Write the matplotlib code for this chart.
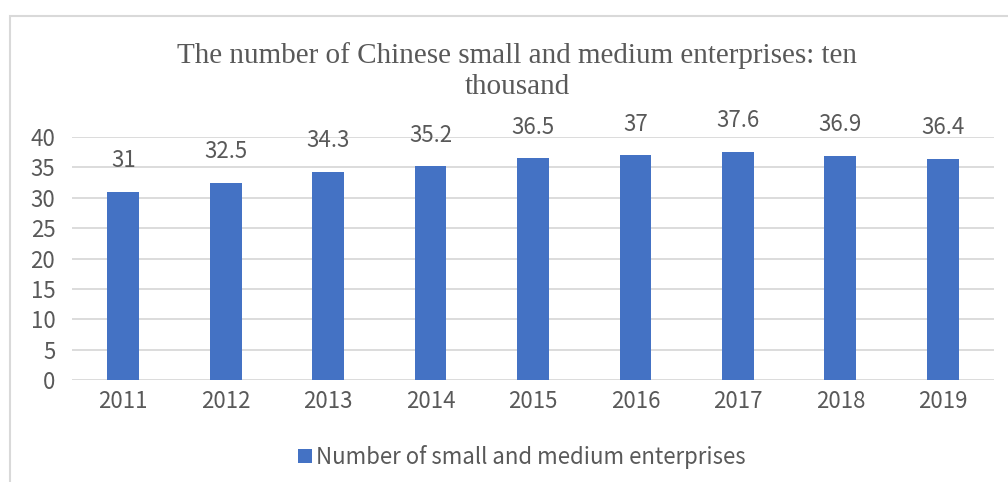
import matplotlib.pyplot as plt
from matplotlib.patches import Rectangle

years = ['2011', '2012', '2013', '2014', '2015', '2016', '2017', '2018', '2019']
enterprises = [31, 32.5, 34.3, 35.2, 36.5, 37, 37.6, 36.9, 36.4]
labels = ['31', '32.5', '34.3', '35.2', '36.5', '37', '37.6', '36.9', '36.4']

BAR_COLOR = '#4472C4'
TEXT_COLOR = '#595959'
GRID_COLOR = '#D9D9D9'
W, H = 1008, 482

plt.rcParams['font.family'] = ['Noto Sans CJK SC', 'DejaVu Sans']

fig = plt.figure(figsize=(W / 100, H / 100), dpi=100)
ax = fig.add_axes([72 / W, 1 - 380 / H, (994 - 72) / W, (380 - 137) / H])

x = list(range(len(years)))
bars = ax.bar(x, enterprises, width=0.31, color=BAR_COLOR, zorder=3,
              label='Number of small and medium enterprises')
for i in range(len(x)):
    ax.annotate(labels[i], (x[i], enterprises[i]), xytext=(0, 14),
                textcoords='offset points', ha='center', va='bottom',
                fontsize=16, color=TEXT_COLOR)

ax.set_xlim(-0.5, len(years) - 0.5)
ax.set_ylim(0, 40)
ax.set_yticks(range(0, 41, 5))
ax.set_xticks(x)
ax.set_xticklabels(years)
ax.tick_params(axis='both', length=0, labelsize=16, colors=TEXT_COLOR)
ax.tick_params(axis='y', pad=12)
ax.tick_params(axis='x', pad=7)
ax.grid(axis='y', color=GRID_COLOR, linewidth=1.3, zorder=0)
for s in ax.spines.values():
    s.set_visible(False)

fig.text(517 / W, 1 - 71 / H, 'The number of Chinese small and medium enterprises: ten\nthousand',
         ha='center', va='center', fontsize=21, color=TEXT_COLOR,
         fontname='Liberation Serif', linespacing=1.25)

fig.legend(loc='center', bbox_to_anchor=(522 / W, 1 - 457 / H), frameon=False,
           fontsize=16, labelcolor=TEXT_COLOR, handlelength=0.6, handleheight=0.6,
           handletextpad=0.2)

# outer chart frame (cut off on right and bottom)
fig.patches.append(Rectangle((10 / W, -0.1), 1.2, 1 - 16 / H + 0.1,
                             transform=fig.transFigure, fill=False,
                             edgecolor=GRID_COLOR, linewidth=1.5))

fig.savefig('out.png', dpi=100)
